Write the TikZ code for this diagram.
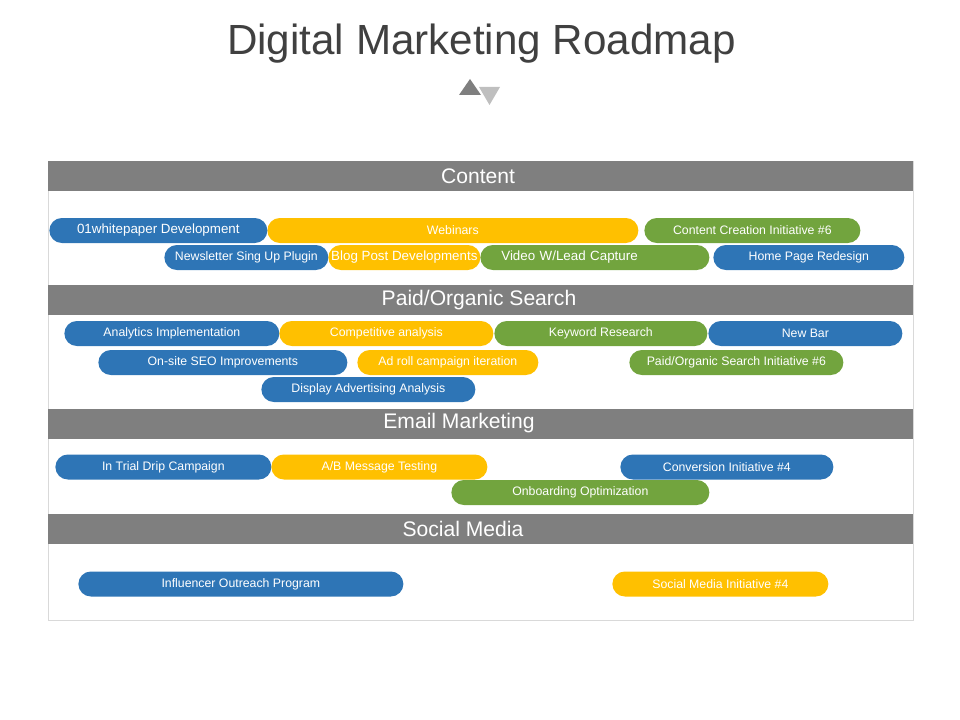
\documentclass[tikz,border=0pt]{standalone}
\usepackage{fontspec}
\setmainfont{Liberation Sans}
\usetikzlibrary{positioning}

\definecolor{mblue}{HTML}{2E75B6}
\definecolor{myellow}{HTML}{FFC000}
\definecolor{mgreen}{HTML}{72A43E}
\definecolor{bandgray}{HTML}{7F7F7F}
\definecolor{framegray}{HTML}{D9D9D9}
\definecolor{titlegray}{HTML}{404040}

\tikzset{
  pill/.style={rounded corners=2.5mm, minimum height=5mm, inner sep=0pt,
    text=white, anchor=west, font=\fontsize{7}{8}\selectfont},
  big/.style={font=\fontsize{7.6}{9}\selectfont},
  len/.style={minimum width=#1*0.2mm},
  band/.style={fill=bandgray, anchor=north west, minimum width=173mm,
    minimum height=6mm, inner sep=0pt},
  bandtext/.style={text=white, font=\fontsize{12}{14}\selectfont, inner sep=0pt}
}

\begin{document}
\begin{tikzpicture}[x=0.2mm, y=-0.2mm]
  \useasboundingbox (0,0) rectangle (960,720);

  % title and marker
  \node[anchor=base, text=titlegray, font=\fontsize{24}{28}\selectfont] (title) at (481.5,55) {Digital Marketing Roadmap};
  \fill[bandgray] (459,95) -- (470,79) -- (481,95) -- cycle;
  \fill[gray!50] (479,87) -- (500,87) -- (489.5,105) -- cycle;

  % frame
  \draw[framegray] (48,161) rectangle (913,620);

  % section bands
  \node[band] (bContent) at (48,161) {};
  \node[band] (bSearch) at (48,285) {};
  \node[band] (bEmail) at (48,409) {};
  \node[band] (bSocial) at (48,514) {};
  \node[bandtext] (tContent) at (478,176) {Content};
  \node[bandtext] (tSearch) at (479,300) {Paid/Organic Search};
  \node[bandtext] (tEmail) at (459,423.5) {Email Marketing};
  \node[bandtext] (tSocial) at (463,529) {Social Media};

  % Content
  \node[pill, fill=myellow, len=371] (webinars) at (267,230.5) {Webinars};
  \node[pill, big, fill=mblue, len=218] (whitepaper) at (49,230.5) {01whitepaper Development};
  \node[pill, fill=mgreen, len=216] (creation) at (644,230.5) {Content Creation Initiative \#6};
  \node[pill, fill=mblue, len=164] (newsletter) at (164,257.5) {Newsletter Sing Up Plugin};
  \node[pill, big, fill=myellow, len=152] (blog) at (328,257.5) {Blog Post Developments};
  \node[pill, big, fill=mgreen, len=229, align=left, text width=187*0.2mm] (video) at (480,257.5) {Video W/Lead Capture};
  \node[pill, fill=mblue, len=191] (homepage) at (713,257.5) {Home Page Redesign};

  % Paid/Organic Search
  \node[pill, fill=mblue, len=215] (analytics) at (64,333.5) {Analytics Implementation};
  \node[pill, fill=myellow, len=214] (competitive) at (279,333.5) {Competitive analysis};
  \node[pill, fill=mgreen, len=213] (keyword) at (494,333.5) {Keyword Research};
  \node[pill, fill=mblue, len=194] (newbar) at (708,333.5) {New Bar};
  \node[pill, fill=mblue, len=249] (seo) at (98,362.5) {On-site SEO Improvements};
  \node[pill, fill=myellow, len=181] (adroll) at (357,362.5) {Ad roll campaign iteration};
  \node[pill, fill=mgreen, len=214] (searchinit) at (629,362.5) {Paid/Organic Search Initiative \#6};
  \node[pill, fill=mblue, len=214] (display) at (261,389.5) {Display Advertising Analysis};

  % Email Marketing
  \node[pill, fill=mblue, len=216] (drip) at (55,467) {In Trial Drip Campaign};
  \node[pill, fill=myellow, len=216] (abtest) at (271,467) {A/B Message Testing};
  \node[pill, fill=mblue, len=213] (conversion) at (620,467) {Conversion Initiative \#4};
  \node[pill, fill=mgreen, len=258] (onboarding) at (451,492.5) {Onboarding Optimization};

  % Social Media
  \node[pill, fill=mblue, len=325] (influencer) at (78,584) {Influencer Outreach Program};
  \node[pill, fill=myellow, len=216] (socialinit) at (612,584) {Social Media Initiative \#4};
\end{tikzpicture}
\end{document}
